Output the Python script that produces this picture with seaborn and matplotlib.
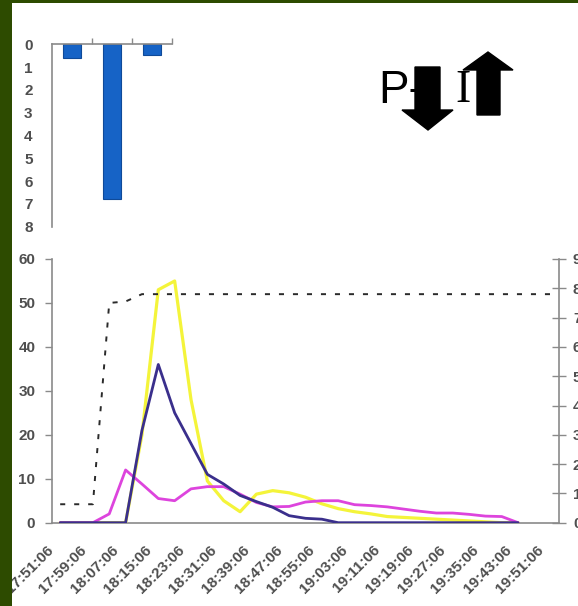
import numpy as np
import pandas as pd
import matplotlib
matplotlib.use("Agg")
import matplotlib.pyplot as plt
import matplotlib.transforms as mtrans
from matplotlib.patches import Rectangle, Polygon
import seaborn as sns

# ---------------- data ----------------
times = ["17:51:06", "17:55:06", "17:59:06", "18:03:06", "18:07:06", "18:11:06",
         "18:15:06", "18:19:06", "18:23:06", "18:27:06", "18:31:06", "18:35:06",
         "18:39:06", "18:43:06", "18:47:06", "18:51:06", "18:55:06", "18:59:06",
         "19:03:06", "19:07:06", "19:11:06", "19:15:06", "19:19:06", "19:23:06",
         "19:27:06", "19:31:06", "19:35:06", "19:39:06", "19:43:06", "19:47:06",
         "19:51:06"]
nan = np.nan
yellow = [0, 0, 0, 0, 0, 20, 53, 55, 28, 9.5, 5, 2.5, 6.5, 7.3, 6.8, 5.8,
          4.3, 3.2, 2.5, 2.0, 1.4, 1.2, 1.0, 0.8, 0.6, 0.4, 0.2, 0, 0, nan, nan]
blue = [0, 0, 0, 0, 0, 21, 36, 25, 18, 11, 8.8, 6.2, 4.8, 3.5, 1.6, 1.0,
        0.8, 0, 0, 0, 0, 0, 0, 0, 0, 0, 0, 0, 0, nan, nan]
magenta = [0, 0, 0, 2, 12, 8.8, 5.5, 5.0, 7.7, 8.2, 8.2, 6.5, 4.6, 3.6, 3.7, 4.7,
           5.0, 5.0, 4.1, 3.9, 3.6, 3.1, 2.6, 2.2, 2.2, 1.9, 1.5, 1.4, 0, nan, nan]
dashed_right = [0.63, 0.63, 0.63, 7.5, 7.55, 7.8, 7.8, 7.8, 7.8, 7.8, 7.8, 7.8,
                7.8, 7.8, 7.8, 7.8, 7.8, 7.8, 7.8, 7.8, 7.8, 7.8, 7.8, 7.8,
                7.8, 7.8, 7.8, 7.8, 7.8, 7.8, 7.8]
left_ticks = [0, 10, 20, 30, 40, 50, 60]
right_ticks = [0, 1, 2, 3, 4, 5, 6, 7, 8, 9]

bar_categories = ["1", "2", "3"]
bar_values = [0.6, 6.8, 0.45]
bar_ticks = [0, 1, 2, 3, 4, 5, 6, 7, 8]

# ---------------- style ----------------
sns.set_style("white")
plt.rcParams["font.family"] = ["Liberation Sans", "DejaVu Sans"]
TXT = "#4f4f4f"
SPINE = "#8a8a8a"
FS = 11

W, H = 578, 606
fig = plt.figure(figsize=(W / 100, H / 100), dpi=100, facecolor="white")

def fx(px):
    return px / W

def fy(py):
    return 1 - py / H

# green border (drawn above everything, like the slide frame)
fig.add_artist(Rectangle((0, 0), fx(12), 1, transform=fig.transFigure,
                         facecolor="#2d4b00", edgecolor="none", zorder=30))
fig.add_artist(Rectangle((0, fy(3)), 1, 1 - fy(3), transform=fig.transFigure,
                         facecolor="#2d4b00", edgecolor="none", zorder=30))

df = pd.DataFrame({"pos": np.arange(len(times)), "time": times,
                   "yellow": yellow, "blue": blue, "magenta": magenta,
                   "dashed": dashed_right})

# ---------------- main chart ----------------
ax = fig.add_axes([fx(52), fy(522.7), fx(559) - fx(52), fy(259) - fy(522.7)])
ax.set_facecolor("white")
sns.lineplot(data=df, x="pos", y="yellow", ax=ax, color="#f4f43a", lw=2.3, zorder=3)
sns.lineplot(data=df, x="pos", y="magenta", ax=ax, color="#dd44dd", lw=2.0, zorder=4)
sns.lineplot(data=df, x="pos", y="blue", ax=ax, color="#3a2f8c", lw=2.0, zorder=5)
ax.set_xlim(-0.5, len(times) - 0.5)
ax.set_ylim(0, 60)
ax.set_xlabel("")
ax.set_ylabel("")
ax.set_yticks(left_ticks)
ax.set_yticklabels([str(t) for t in left_ticks])
ax.set_xticks(np.arange(0, len(times), 2))
ax.set_xticklabels(times[::2])
ax.set_xticks(np.arange(-0.5, len(times), 1), minor=True)
ax.tick_params(axis="x", which="major", length=0, pad=18, labelsize=FS,
               labelcolor=TXT)
ax.tick_params(axis="x", which="minor", length=6, direction="inout",
               color=SPINE, width=1)
ax.tick_params(axis="y", which="major", length=5, direction="out", color=SPINE,
               width=1, pad=7, labelsize=FS, labelcolor=TXT)
off = mtrans.ScaledTranslation(-9 / 100, 0, fig.dpi_scale_trans)
for lbl in ax.get_xticklabels():
    lbl.set_rotation(45)
    lbl.set_ha("right")
    lbl.set_va("center")
    lbl.set_rotation_mode("anchor")
    lbl.set_fontweight("bold")
    lbl.set_transform(lbl.get_transform() + off)
for lbl in ax.get_yticklabels():
    lbl.set_fontweight("bold")
for s in ["top", "right"]:
    ax.spines[s].set_visible(False)
for s in ["left", "bottom"]:
    ax.spines[s].set_color(SPINE)
    ax.spines[s].set_linewidth(1.2)

ax2 = ax.twinx()
sns.lineplot(data=df, x="pos", y="dashed", ax=ax2, color="#2a2a2a", lw=1.4,
             zorder=6)
ax2.lines[-1].set_dashes([2.6, 4.6])
ax2.set_ylim(0, 9)
ax2.set_xlim(-0.5, len(times) - 0.5)
ax2.set_ylabel("")
ax2.set_yticks(right_ticks)
ax2.set_yticklabels([str(t) for t in right_ticks])
ax2.tick_params(axis="y", length=10, direction="inout", color=SPINE, width=1,
                pad=5, labelsize=FS, labelcolor=TXT)
for lbl in ax2.get_yticklabels():
    lbl.set_fontweight("bold")
for s in ["top", "left", "bottom"]:
    ax2.spines[s].set_visible(False)
ax2.spines["right"].set_color(SPINE)
ax2.spines["right"].set_linewidth(1.2)

# ---------------- bar chart ----------------
bx = fig.add_axes([fx(52), fy(226.7), fx(172) - fx(52), fy(44.3) - fy(226.7)])
bx.set_facecolor("white")
bdf = pd.DataFrame({"cat": bar_categories, "val": bar_values})
sns.barplot(data=bdf, x="cat", y="val", ax=bx, color="#1663c6", width=0.43,
            edgecolor="#0f4a99", linewidth=0.8, saturation=1)
bx.set_xlim(-0.5, 2.5)
bx.set_ylim(8, 0)
bx.set_xlabel("")
bx.set_ylabel("")
bx.xaxis.tick_top()
bx.set_xticks([0.5, 1.5, 2.5])
bx.set_xticklabels([])
bx.tick_params(axis="x", length=4, direction="out", color=SPINE, width=1)
bx.set_yticks(bar_ticks)
bx.set_yticklabels([str(t) for t in bar_ticks])
bx.tick_params(axis="y", length=5, direction="out", color=SPINE, width=1,
               pad=9, labelsize=FS, labelcolor=TXT)
for lbl in bx.get_yticklabels():
    lbl.set_fontweight("bold")
for s in ["bottom", "right"]:
    bx.spines[s].set_visible(False)
for s in ["top", "left"]:
    bx.spines[s].set_color(SPINE)
    bx.spines[s].set_linewidth(1.2)

# ---------------- P / I arrows ----------------
fig.text(fx(378), fy(103), "P-", fontsize=33, color="black",
         family=["Liberation Sans", "DejaVu Sans"], va="baseline", ha="left",
         zorder=10)
fig.text(fx(455), fy(102), "I", fontsize=33, color="black",
         family=["Liberation Serif", "DejaVu Serif"], va="baseline", ha="left",
         zorder=10)
down = [(415, 67), (440, 67), (440, 110), (453, 110), (428, 130), (402, 110), (415, 110)]
up = [(477, 115), (500, 115), (500, 70), (513, 70), (488, 52), (463, 70), (477, 70)]
for pts in (down, up):
    fig.add_artist(Polygon([(fx(a), fy(b)) for a, b in pts], closed=True,
                           transform=fig.transFigure, facecolor="black",
                           edgecolor="black", zorder=11))

fig.savefig("out.png", dpi=100, facecolor="white")
